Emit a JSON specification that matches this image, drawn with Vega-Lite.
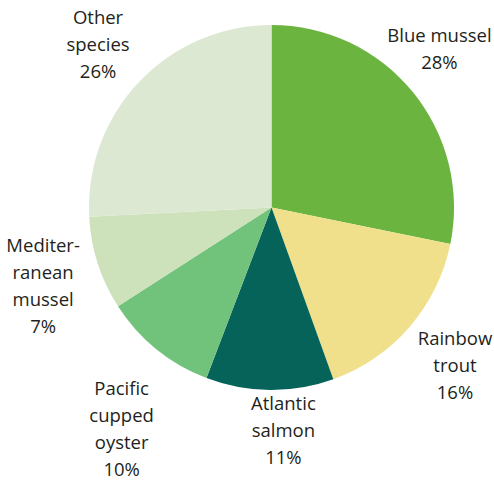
{
  "$schema": "https://vega.github.io/schema/vega-lite/v6.json",
  "width": 365,
  "height": 365,
  "autosize": {"type": "none"},
  "padding": {"left": 89, "top": 25, "right": 40, "bottom": 92},
  "background": "white",
  "config": {"view": {"stroke": null}},
  "data": {
    "values": [
      {"name": "Blue mussel", "label": "Blue mussel\n28%", "share": 28.2, "rank": 1},
      {"name": "Rainbow trout", "label": "Rainbow\ntrout\n16%", "share": 16.3, "rank": 2},
      {"name": "Atlantic salmon", "label": "Atlantic\nsalmon\n11%", "share": 11.3, "rank": 3},
      {"name": "Pacific cupped oyster", "label": "Pacific\ncupped\noyster\n10%", "share": 10.1, "rank": 4},
      {"name": "Mediterranean mussel", "label": "Mediter-\nranean\nmussel\n7%", "share": 8.3, "rank": 5},
      {"name": "Other species", "label": "Other\nspecies\n26%", "share": 25.8, "rank": 6}
    ]
  },
  "encoding": {
    "theta": {"field": "share", "type": "quantitative", "stack": true},
    "order": {"field": "rank", "type": "quantitative"}
  },
  "layer": [
    {
      "mark": {"type": "arc", "stroke": null},
      "encoding": {
        "color": {
          "field": "name",
          "type": "nominal",
          "legend": null,
          "scale": {
            "domain": ["Blue mussel", "Rainbow trout", "Atlantic salmon", "Pacific cupped oyster", "Mediterranean mussel", "Other species"],
            "range": ["#6ab43f", "#f1e08b", "#05635a", "#71c27b", "#cde1bb", "#dce8d2"]
          }
        }
      }
    },
    {
      "mark": {"type": "text", "radius": 231, "dx": -11, "dy": -25.5, "font": "Open Sans", "fontSize": 18.5, "lineHeight": 27, "lineBreak": "\n", "align": "center", "baseline": "middle", "fill": "#231f20"},
      "encoding": {
        "detail": {"field": "name", "type": "nominal"},
        "text": {"condition": {"test": "datum.name === 'Blue mussel'", "field": "label", "type": "nominal"}, "value": ""}
      }
    },
    {
      "mark": {"type": "text", "radius": 242.6, "dx": 0, "dy": -27, "font": "Open Sans", "fontSize": 18.5, "lineHeight": 27, "lineBreak": "\n", "align": "center", "baseline": "middle", "fill": "#231f20"},
      "encoding": {
        "detail": {"field": "name", "type": "nominal"},
        "text": {"condition": {"test": "datum.name === 'Rainbow trout'", "field": "label", "type": "nominal"}, "value": ""}
      }
    },
    {
      "mark": {"type": "text", "radius": 224, "dx": 14, "dy": -27, "font": "Open Sans", "fontSize": 18.5, "lineHeight": 27, "lineBreak": "\n", "align": "center", "baseline": "middle", "fill": "#231f20"},
      "encoding": {
        "detail": {"field": "name", "type": "nominal"},
        "text": {"condition": {"test": "datum.name === 'Atlantic salmon'", "field": "label", "type": "nominal"}, "value": ""}
      }
    },
    {
      "mark": {"type": "text", "radius": 268, "dx": 19, "dy": -26.5, "font": "Open Sans", "fontSize": 18.5, "lineHeight": 27, "lineBreak": "\n", "align": "center", "baseline": "middle", "fill": "#231f20"},
      "encoding": {
        "detail": {"field": "name", "type": "nominal"},
        "text": {"condition": {"test": "datum.name === 'Pacific cupped oyster'", "field": "label", "type": "nominal"}, "value": ""}
      }
    },
    {
      "mark": {"type": "text", "radius": 242, "dx": 2, "dy": -35.5, "font": "Open Sans", "fontSize": 18.5, "lineHeight": 27, "lineBreak": "\n", "align": "center", "baseline": "middle", "fill": "#231f20"},
      "encoding": {
        "detail": {"field": "name", "type": "nominal"},
        "text": {"condition": {"test": "datum.name === 'Mediterranean mussel'", "field": "label", "type": "nominal"}, "value": ""}
      }
    },
    {
      "mark": {"type": "text", "radius": 238, "dx": -1, "dy": -25, "font": "Open Sans", "fontSize": 18.5, "lineHeight": 27, "lineBreak": "\n", "align": "center", "baseline": "middle", "fill": "#231f20"},
      "encoding": {
        "detail": {"field": "name", "type": "nominal"},
        "text": {"condition": {"test": "datum.name === 'Other species'", "field": "label", "type": "nominal"}, "value": ""}
      }
    }
  ]
}
